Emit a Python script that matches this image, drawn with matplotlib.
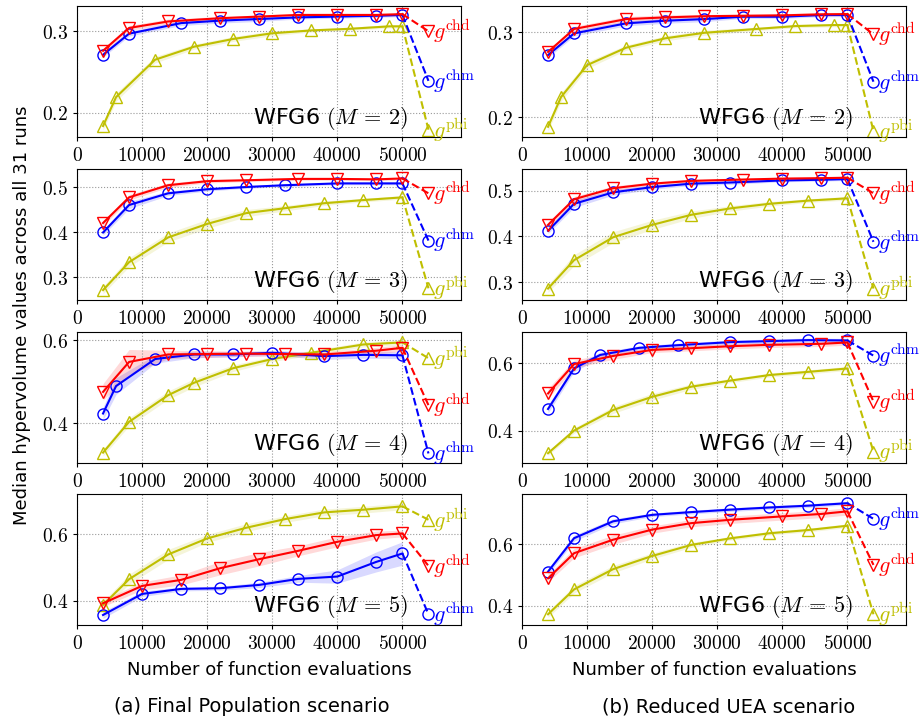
import numpy as np
import matplotlib
matplotlib.use("Agg")
import matplotlib.pyplot as plt
from matplotlib.ticker import FuncFormatter, MultipleLocator

plt.rcParams['mathtext.fontset'] = 'cm'
plt.rcParams['font.family'] = 'DejaVu Sans'

M_VALUES = [2, 3, 4, 5]
FINAL_X = 54000

# ---- (a) Final Population scenario ----
fp_chd_x = [[4000, 8000, 14000, 22000, 28000, 34000, 40000, 46000, 50000],
            [4000, 8000, 14000, 20000, 26000, 34000, 40000, 46000, 50000],
            [4000, 8000, 14000, 20000, 26000, 32000, 38000, 46000, 50000],
            [4000, 10000, 16000, 22000, 28000, 34000, 40000, 46000, 50000]]
fp_chd_y = [[0.276, 0.304, 0.312, 0.316, 0.318, 0.320, 0.320, 0.320, 0.321],
            [0.421, 0.478, 0.505, 0.514, 0.516, 0.519, 0.519, 0.518, 0.520],
            [0.476, 0.548, 0.566, 0.567, 0.568, 0.567, 0.566, 0.575, 0.582],
            [0.393, 0.445, 0.463, 0.498, 0.525, 0.550, 0.577, 0.597, 0.602]]
fp_chd_band = [[0.003, 0.003, 0.003, 0.002, 0.002, 0.002, 0.002, 0.002, 0.002],
               [0.006, 0.006, 0.005, 0.004, 0.003, 0.003, 0.003, 0.003, 0.003],
               [0.020, 0.030, 0.010, 0.008, 0.006, 0.006, 0.006, 0.008, 0.008],
               [0.010, 0.012, 0.015, 0.020, 0.020, 0.015, 0.015, 0.012, 0.010]]
fp_chd_final = [0.300, 0.487, 0.444, 0.505]

fp_chm_x = [[4000, 8000, 16000, 22000, 28000, 34000, 40000, 46000, 50000],
            [4000, 8000, 14000, 20000, 26000, 32000, 40000, 46000, 50000],
            [4000, 6000, 12000, 18000, 24000, 30000, 38000, 44000, 50000],
            [4000, 10000, 16000, 22000, 28000, 34000, 40000, 46000, 50000]]
fp_chm_y = [[0.271, 0.297, 0.310, 0.313, 0.315, 0.317, 0.318, 0.319, 0.320],
            [0.400, 0.461, 0.487, 0.496, 0.501, 0.505, 0.509, 0.509, 0.509],
            [0.424, 0.490, 0.555, 0.566, 0.566, 0.570, 0.562, 0.565, 0.564],
            [0.358, 0.421, 0.436, 0.438, 0.448, 0.466, 0.473, 0.517, 0.542]]
fp_chm_band = [[0.003, 0.003, 0.003, 0.003, 0.003, 0.002, 0.002, 0.002, 0.002],
               [0.006, 0.008, 0.005, 0.004, 0.003, 0.003, 0.003, 0.003, 0.003],
               [0.015, 0.020, 0.010, 0.008, 0.006, 0.006, 0.008, 0.008, 0.008],
               [0.010, 0.008, 0.006, 0.006, 0.008, 0.010, 0.020, 0.030, 0.035]]
fp_chm_final = [0.239, 0.382, 0.328, 0.360]

fp_pbi_x = [[4000, 6000, 12000, 18000, 24000, 30000, 36000, 42000, 48000, 50000],
            [4000, 8000, 14000, 20000, 26000, 32000, 38000, 44000, 50000],
            [4000, 8000, 14000, 18000, 24000, 30000, 36000, 44000, 50000],
            [4000, 8000, 14000, 20000, 26000, 32000, 38000, 44000, 50000]]
fp_pbi_y = [[0.1835, 0.219, 0.265, 0.281, 0.2905, 0.2975, 0.301, 0.303, 0.306, 0.306],
            [0.272, 0.334, 0.389, 0.419, 0.443, 0.454, 0.465, 0.472, 0.478],
            [0.330, 0.404, 0.468, 0.498, 0.533, 0.555, 0.570, 0.590, 0.595],
            [0.388, 0.465, 0.539, 0.587, 0.619, 0.645, 0.665, 0.673, 0.683]]
fp_pbi_band = [[0.005, 0.005, 0.004, 0.003, 0.003, 0.003, 0.002, 0.002, 0.002, 0.002],
               [0.008, 0.010, 0.010, 0.010, 0.008, 0.006, 0.005, 0.004, 0.004],
               [0.008, 0.010, 0.010, 0.010, 0.008, 0.006, 0.006, 0.006, 0.006],
               [0.010, 0.015, 0.015, 0.012, 0.012, 0.010, 0.010, 0.010, 0.010]]
fp_pbi_final = [0.179, 0.276, 0.557, 0.643]

# ---- (b) Reduced UEA scenario ----
ru_chd_x = [[4000, 8000, 16000, 22000, 28000, 34000, 40000, 46000, 50000],
            [4000, 8000, 14000, 20000, 26000, 34000, 40000, 46000, 50000],
            [4000, 8000, 14000, 20000, 26000, 32000, 38000, 46000, 50000],
            [4000, 8000, 14000, 20000, 26000, 32000, 40000, 46000, 50000]]
ru_chd_y = [[0.277, 0.304, 0.3156, 0.3176, 0.319, 0.3195, 0.320, 0.3212, 0.3215],
            [0.425, 0.481, 0.505, 0.515, 0.521, 0.524, 0.526, 0.527, 0.528],
            [0.511, 0.598, 0.622, 0.640, 0.645, 0.651, 0.655, 0.658, 0.662],
            [0.489, 0.571, 0.615, 0.648, 0.669, 0.680, 0.691, 0.699, 0.7075]]
ru_chd_band = [[0.003, 0.003, 0.003, 0.003, 0.002, 0.002, 0.002, 0.002, 0.002],
               [0.006, 0.006, 0.005, 0.004, 0.004, 0.003, 0.003, 0.003, 0.003],
               [0.015, 0.012, 0.010, 0.008, 0.008, 0.008, 0.008, 0.008, 0.008],
               [0.012, 0.015, 0.015, 0.012, 0.012, 0.012, 0.012, 0.012, 0.012]]
ru_chd_final = [0.2976, 0.494, 0.487, 0.533]

ru_chm_x = [[4000, 8000, 16000, 22000, 28000, 34000, 40000, 46000, 50000],
            [4000, 8000, 14000, 20000, 26000, 32000, 40000, 46000, 50000],
            [4000, 8000, 12000, 18000, 24000, 32000, 38000, 44000, 50000],
            [4000, 8000, 14000, 20000, 26000, 32000, 38000, 44000, 50000]]
ru_chm_y = [[0.2733, 0.2988, 0.3106, 0.3137, 0.3156, 0.3184, 0.3184, 0.3204, 0.3204],
            [0.412, 0.471, 0.496, 0.5075, 0.515, 0.5175, 0.522, 0.5235, 0.525],
            [0.465, 0.585, 0.625, 0.646, 0.654, 0.663, 0.666, 0.669, 0.668],
            [0.511, 0.620, 0.675, 0.696, 0.705, 0.713, 0.720, 0.726, 0.734]]
ru_chm_band = [[0.003, 0.003, 0.003, 0.003, 0.003, 0.002, 0.002, 0.002, 0.002],
               [0.006, 0.008, 0.006, 0.005, 0.004, 0.004, 0.003, 0.003, 0.003],
               [0.012, 0.010, 0.008, 0.006, 0.006, 0.006, 0.006, 0.006, 0.006],
               [0.010, 0.010, 0.008, 0.006, 0.006, 0.006, 0.006, 0.006, 0.006]]
ru_chm_final = [0.242, 0.388, 0.623, 0.683]

ru_pbi_x = [[4000, 6000, 10000, 16000, 22000, 28000, 36000, 42000, 48000, 50000],
            [4000, 8000, 14000, 20000, 26000, 32000, 38000, 44000, 50000],
            [4000, 8000, 14000, 20000, 26000, 32000, 38000, 44000, 50000],
            [4000, 8000, 14000, 20000, 26000, 32000, 38000, 44000, 50000]]
ru_pbi_y = [[0.189, 0.224, 0.2615, 0.282, 0.293, 0.2995, 0.304, 0.3074, 0.3086, 0.3086],
            [0.286, 0.348, 0.398, 0.425, 0.447, 0.461, 0.471, 0.478, 0.483],
            [0.334, 0.401, 0.462, 0.501, 0.531, 0.549, 0.5655, 0.575, 0.585],
            [0.372, 0.453, 0.519, 0.562, 0.598, 0.6195, 0.636, 0.6466, 0.6606]]
ru_pbi_band = [[0.005, 0.005, 0.004, 0.003, 0.003, 0.003, 0.002, 0.002, 0.002, 0.002],
               [0.008, 0.012, 0.012, 0.010, 0.008, 0.006, 0.005, 0.004, 0.004],
               [0.006, 0.008, 0.010, 0.010, 0.008, 0.006, 0.006, 0.006, 0.006],
               [0.010, 0.012, 0.012, 0.010, 0.008, 0.006, 0.006, 0.006, 0.006]]
ru_pbi_final = [0.184, 0.286, 0.339, 0.372]

fp_ylim = [(0.170, 0.331), (0.250, 0.541), (0.305, 0.620), (0.328, 0.720)]
ru_ylim = [(0.177, 0.331), (0.261, 0.547), (0.305, 0.693), (0.337, 0.764)]
ytick_step = [0.1, 0.1, 0.2, 0.2]

SERIES_STYLE = [  # name, color, marker
    ('pbi', '#bfbf00', '^'),
    ('chm', '#0000ff', 'o'),
    ('chd', '#ff0000', 'v'),
]

scenarios = [
    dict(pbi=(fp_pbi_x, fp_pbi_y, fp_pbi_band, fp_pbi_final),
         chm=(fp_chm_x, fp_chm_y, fp_chm_band, fp_chm_final),
         chd=(fp_chd_x, fp_chd_y, fp_chd_band, fp_chd_final),
         ylim=fp_ylim, left=77),
    dict(pbi=(ru_pbi_x, ru_pbi_y, ru_pbi_band, ru_pbi_final),
         chm=(ru_chm_x, ru_chm_y, ru_chm_band, ru_chm_final),
         chd=(ru_chd_x, ru_chd_y, ru_chd_band, ru_chd_final),
         ylim=ru_ylim, left=522),
]

W, H = 922, 725
fig = plt.figure(figsize=(W / 100, H / 100), dpi=100)
fig.patch.set_facecolor('white')

row_top_px = [6, 169, 332, 494]
ax_h_px = 131
ax_w_px = 384

math_fmt = FuncFormatter(lambda v, p: f'${v:g}$')

for col, sc in enumerate(scenarios):
    for row, M in enumerate(M_VALUES):
        bottom = 1 - (row_top_px[row] + ax_h_px) / H
        ax = fig.add_axes([sc['left'] / W, bottom, ax_w_px / W, ax_h_px / H])
        for name, color, marker in SERIES_STYLE:
            xs, ys, bands, finals = sc[name]
            x = np.array(xs[row])
            y = np.array(ys[row])
            b = np.array(bands[row])
            ax.fill_between(x, y - b, y + b, color=color, alpha=0.15, lw=0)
            ax.plot(x, y, color=color, lw=1.5, marker=marker, ms=8,
                    mfc='none', mec=color, mew=1.0)
            ax.plot([x[-1], FINAL_X], [y[-1], finals[row]], color=color,
                    lw=1.5, ls='--')
            ax.plot([FINAL_X], [finals[row]], marker=marker, ms=8,
                    mfc='none', mec=color, mew=1.0, clip_on=False)
            ax.text(FINAL_X + 700, finals[row], r'$g^{\rm %s}$' % name,
                    color=color, fontsize=16, ha='left', va='center',
                    clip_on=False)

        ax.set_xlim(0, 59000)
        ax.set_ylim(*sc['ylim'][row])
        ax.xaxis.set_major_locator(MultipleLocator(10000))
        ax.yaxis.set_major_locator(MultipleLocator(ytick_step[row]))
        ax.xaxis.set_major_formatter(math_fmt)
        ax.yaxis.set_major_formatter(math_fmt)
        ax.tick_params(labelsize=14, length=3, width=0.8)
        ax.grid(True, ls=':', color='#999999', lw=0.8)
        ax.text(0.862, 0.04, r'WFG6 $(M\,=\,%d)$' % M, transform=ax.transAxes,
                ha='right', va='bottom', fontsize=16)
        if row == 3:
            ax.set_xlabel('Number of function evaluations', fontsize=13,
                          labelpad=6)

fig.text(22 / W, 1 - 315 / H, 'Median hypervolume values across all 31 runs',
         rotation=90, ha='center', va='center', fontsize=13)
fig.text(252 / W, 1 - 707 / H, '(a) Final Population scenario',
         ha='center', va='center', fontsize=14)
fig.text(729 / W, 1 - 707 / H, '(b) Reduced UEA scenario',
         ha='center', va='center', fontsize=14)

fig.savefig('out.png', dpi=100)
